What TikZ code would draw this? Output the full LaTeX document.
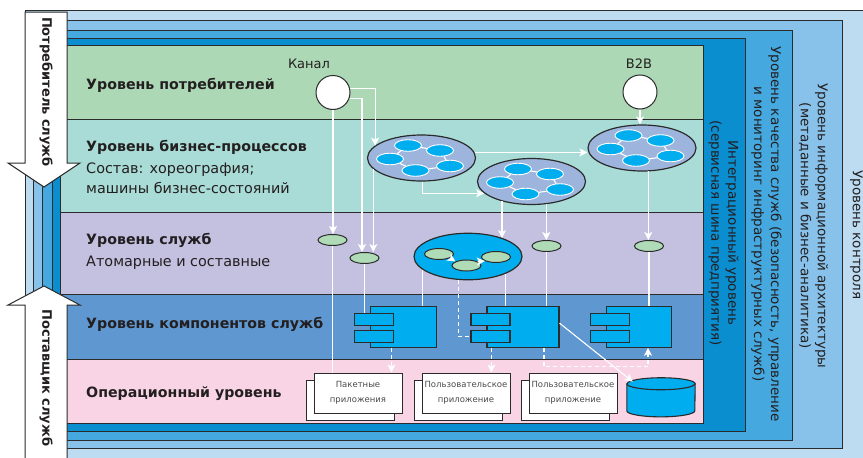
\documentclass[tikz,border=0pt]{standalone}
\usepackage{fontspec}
\setmainfont{DejaVu Sans}
\usetikzlibrary{calc,shapes.geometric,arrows.meta,shadows}

\definecolor{ctrlblue}{HTML}{BDDCF2}
\definecolor{infoblue}{HTML}{88C2EA}
\definecolor{qosblue}{HTML}{45A8DF}
\definecolor{integblue}{HTML}{0B8ECF}
\definecolor{consgreen}{HTML}{ADD8B6}
\definecolor{bpteal}{HTML}{A9DCD6}
\definecolor{svclilac}{HTML}{C4C0E0}
\definecolor{compblue}{HTML}{5F98D1}
\definecolor{opspink}{HTML}{F8D4E4}
\definecolor{procfill}{HTML}{9DB5DD}
\definecolor{atomcyan}{HTML}{00AEEF}
\definecolor{svcgreen}{HTML}{B0DBB7}
\definecolor{inkline}{HTML}{2B2B2B}
\definecolor{labeltext}{HTML}{231F20}
\definecolor{doctext}{HTML}{4A4A4A}

\tikzset{
% frames, layers and the two role arrows
frame/.style={draw=inkline,line width=1pt},
% shapes inside the layers
chan node/.style={circle,draw=inkline,line width=1pt,fill=white,minimum size=34pt,inner sep=0},
proc node/.style={ellipse,draw=inkline,line width=1.2pt,fill=procfill,minimum width=108pt,minimum height=46pt,inner sep=0},
atom node/.style={ellipse,draw=white,line width=0.9pt,fill=atomcyan,minimum width=27pt,minimum height=11.5pt,inner sep=0},
svc node/.style={ellipse,draw=inkline,line width=1pt,fill=svcgreen,minimum width=29pt,minimum height=11pt,inner sep=0},
comp svc node/.style={ellipse,draw=inkline,line width=1.2pt,fill=atomcyan,minimum width=108pt,minimum height=46.5pt,inner sep=0},
comp node/.style={rectangle,draw=inkline,line width=1.1pt,fill=atomcyan,minimum width=66pt,minimum height=40.5pt,inner sep=0},
port node/.style={rectangle,draw=inkline,line width=1.1pt,fill=atomcyan,minimum width=39pt,minimum height=12.5pt,inner sep=0},
doc node/.style={rectangle,draw=inkline,line width=1pt,fill=white,minimum width=88pt,minimum height=40pt,inner sep=0,
  align=center,text=doctext,font=\fontsize{8.5}{15}\selectfont,copy shadow={shadow xshift=-8pt,shadow yshift=-7pt}},
% white connectors
link/.style={draw=white,line width=1.1pt},
flow/.style={link,-{Stealth[length=8pt,width=8pt,inset=2pt]}},
dflow/.style={flow,dash pattern=on 4pt off 3pt},
% texts
layer title/.style={anchor=base west,inner sep=0,font=\fontsize{14.2}{17}\selectfont\bfseries,text=labeltext},
layer note/.style={anchor=base west,inner sep=0,font=\fontsize{14.4}{17}\selectfont,text=labeltext},
small label/.style={anchor=base,inner sep=0,font=\fontsize{13}{16}\selectfont,text=labeltext},
side text/.style={rotate=-90,align=center,inner sep=0,font=\fontsize{13.5}{17}\selectfont,text=labeltext},
role text/.style={rotate=-90,inner sep=0,font=\fontsize{13}{16}\selectfont\bfseries,text=labeltext}
}

\begin{document}
\begin{tikzpicture}[x=1pt,y=-1pt]
\useasboundingbox (0,0) rectangle (863,458);

% nested frames
\draw[frame,fill=ctrlblue] (25,10) rectangle (880,475);
\draw[frame,fill=infoblue] (33,20) rectangle (842,448);
\draw[frame,fill=qosblue] (42,30) rectangle (792,440);
\draw[frame,fill=integblue] (52,38) rectangle (745,431);

% layers
\draw[frame,fill=consgreen] (60,45) rectangle (703,119);
\draw[frame,fill=bpteal] (60,119) rectangle (703,212);
\draw[frame,fill=svclilac] (60,212) rectangle (703,294);
\draw[frame,fill=compblue] (60,294) rectangle (703,359);
\draw[frame,fill=opspink] (60,359) rectangle (703,423);

% consumer and provider arrows
\draw[frame,fill=white] (25,12) -- (67,12) -- (67,163) -- (80,163) -- (44,187) -- (8,163) -- (25,163) -- cycle;
\draw[frame,fill=white] (44,286) -- (80,305) -- (67,305) -- (67,475) -- (25,475) -- (25,305) -- (8,305) -- cycle;
\node[role text] (consumer) at (46,92) {Потребитель служб};
\node[role text] (provider) at (46,378) {Поставщик служб};

% layer names
\node[layer title] (lcons) at (86,89.3) {Уровень потребителей};
\node[layer title] (lbp) at (86,151) {Уровень бизнес-процессов};
\node[layer note] (lbpnote) at (86,173.3) {Состав: хореография;};
\node[layer note] (lbpnote2) at (86,193.5) {машины бизнес-состояний};
\node[layer title] (lsvc) at (86,244.5) {Уровень служб};
\node[layer note] (lsvcnote) at (86,266.7) {Атомарные и составные};
\node[layer title] (lcomp) at (86,328.3) {Уровень компонентов служб};
\node[layer title] (lops) at (86,397.7) {Операционный уровень};

% consumers
\node[chan node] (kanal) at (333,92.5) {};
\node[chan node] (b2b) at (640,92) {};
\node[small label] (kanaltxt) at (309,68) {Канал};
\node[small label] (b2btxt) at (639,68) {B2B};

% business processes
\node[proc node] (P1) at (421.5,158) {};
\node[proc node] (P2) at (531.5,181.5) {};
\node[proc node] (P3) at (642,148) {};
\foreach \p in {P1,P2,P3}{
  \foreach \a/\dx/\dy in {a/-13.5/-12.5,b/18.5/-7.5,c/-31.5/1,d/-6/12.5,e/28.5/8}
    \node[atom node] (\p\a) at ($(\p)+(\dx,\dy)$) {};
  \draw[link] (\p a) -- (\p b) -- (\p e) -- (\p d) -- (\p c) -- (\p a);
}

% services
\node[svc node] (S1) at (332.5,240) {};
\node[svc node] (S2) at (364.5,258) {};
\node[comp svc node] (C) at (468,256.5) {};
\node[svc node] (G1) at (439,254) {};
\node[svc node] (G2) at (466.5,265.5) {};
\node[svc node] (G3) at (496,257) {};
\node[svc node] (S3) at (546.5,246) {};
\node[svc node] (S4) at (649,246) {};
\draw[flow] (G1.-20) -- (G2.160);
\draw[flow] (G2.20) -- (G3.200);

% service components
\node[comp node] (K1) at (403.5,327) {};
\node[port node] (K1a) at ($(K1.west)+(4,-7.5)$) {};
\node[port node] (K1b) at ($(K1.west)+(4,9.5)$) {};
\node[comp node,minimum width=72pt] (K2) at (523,327) {};
\node[port node] (K2a) at ($(K2.west)+(4,-7.5)$) {};
\node[port node] (K2b) at ($(K2.west)+(4,9.5)$) {};
\node[comp node,minimum width=65pt] (K3) at (639,327) {};
\node[port node] (K3a) at ($(K3.west)+(4,-7.5)$) {};
\node[port node] (K3b) at ($(K3.west)+(4,9.5)$) {};

% operational systems
\node[doc node] (D1) at (358,393) {Пакетные\\приложения};
\node[doc node] (D2) at (466,393) {Пользовательское\\приложение};
\node[doc node] (D3) at (573,393) {Пользовательское\\приложение};
\node[minimum width=68pt,minimum height=26.7pt,inner sep=0] (db) at (661,397.3) {};
\filldraw[draw=inkline,line width=1.1pt,fill=atomcyan] (db.north west) -- (db.south west)
  arc[start angle=180,end angle=360,x radius=34pt,y radius=6pt] -- (db.north east)
  arc[start angle=0,end angle=180,x radius=34pt,y radius=6pt] -- cycle;
\draw[draw=inkline,line width=1.1pt] (db.north west) arc[start angle=180,end angle=360,x radius=34pt,y radius=6pt];

% connectors
\draw[flow] (kanal.12) -| (P1.165);
\draw[flow] (kanal.-19) -| ($(S2.north)+(-2.5,0)$);
\draw[flow] (kanal.south) -- (kanal.south |- S1.north);
\draw[link] (S1.south) -- (S1.south |- D1.north);
\draw[flow] (P1.193) -- (P1.193 |- S2.north);
\draw[flow] (P1.6) -- (P1.6 -| P3.west);
\draw[flow] (P1.272) |- (P2.194);
\draw[flow] (b2b.south) -- (b2b.south |- P3.north);
\draw[flow] (P2.214) -- (P2.214 |- C.28);
\draw[flow] (P2.-57) -- (P2.-57 |- S3.north);
\draw[flow] (P3.-75) -- (P3.-75 |- S4.north);

\draw[link] (S2.south) -- (S2.south |- K1a.north);
\draw[link] (C.196) -- (C.196 |- K1.north);
\draw[link] (C.-25) -- (C.-25 |- K2.north);
\draw[link] (S3.south) -- (S3.south |- K2.north);
\draw[link] (S4.south) -- (S4.south |- K3.north);
\draw[link,dash pattern=on 4pt off 3pt] (C.248) |- (K2b.west);

\coordinate (k1out) at ($(K1.south west)+(21.5,0)$);
\coordinate (k2out) at ($(K2.south west)+(5,0)$);
\coordinate (k2tap) at ($(K2.south west)+(57.5,0)$);
\coordinate (k3in) at ($(K3.south)+(9,0)$);
\draw[dflow] (k1out) -- (k1out |- D1.north);
\draw[dflow] (k2out) -- (k2out |- D2.north);
\draw[dflow] (k2tap) -- ++(0,19) -| (k3in);
\draw[flow] (K2.6) -- ($(db.north west)+(6,-2)$);

% frame names
\node[side text] (integtxt) at (723.5,233) {Интеграционный уровень\\(сервисная шина предприятия)};
\node[side text] (qostxt) at (766.5,234) {Уровень качества служб (безопасность, управление\\и мониторинг инфраструктурных служб)};
\node[side text] (infotxt) at (813.5,226) {Уровень информационной архитектуры\\(метаданные и бизнес-аналитика)};
\node[side text] (ctrltxt) at (856.5,235) {Уровень контроля};
\end{tikzpicture}
\end{document}
